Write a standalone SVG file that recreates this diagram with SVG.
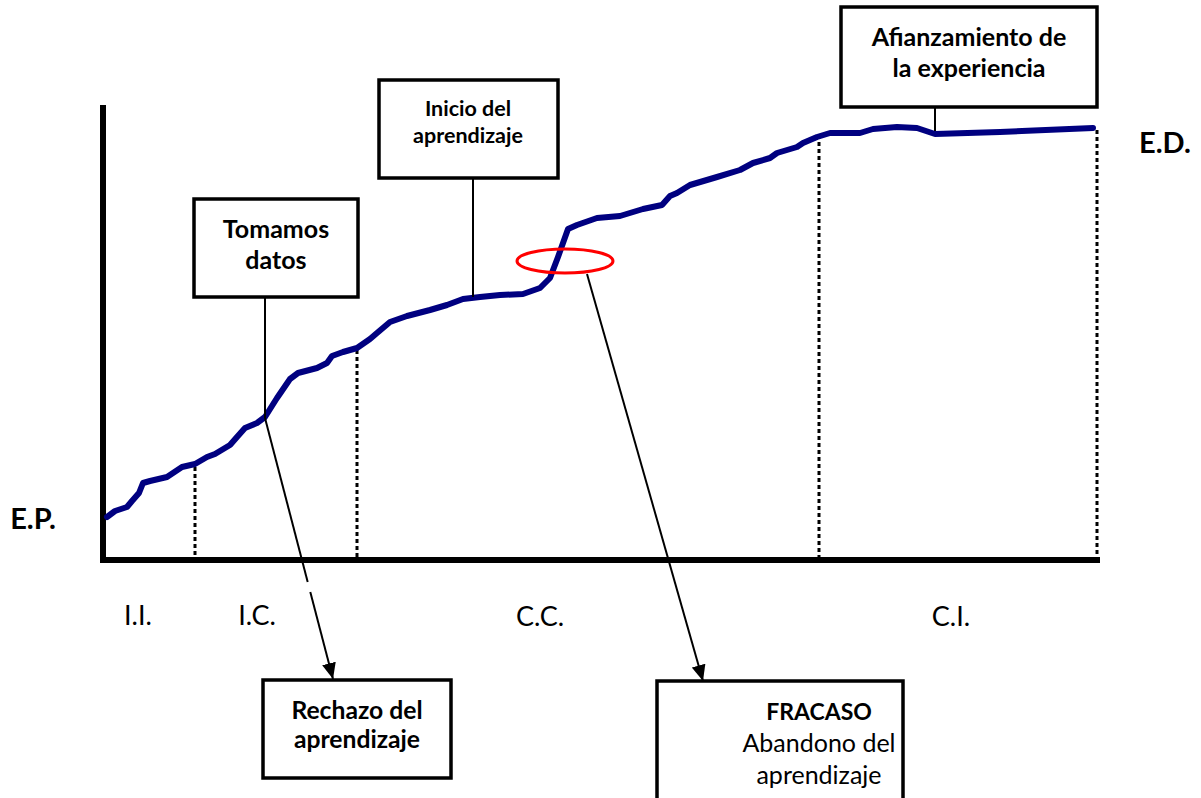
<svg xmlns="http://www.w3.org/2000/svg" width="1201" height="798" viewBox="0 0 1201 798">
  <style>
    .box { fill: #ffffff; stroke: #000000; stroke-width: 3.5; }
    .bt { font-family: Lato, "Liberation Sans", sans-serif; font-weight: bold; fill: #000000; text-anchor: middle; }
    .rt { font-family: Lato, "Liberation Sans", sans-serif; fill: #000000; text-anchor: middle; }
    .axis { stroke: #000000; stroke-width: 6; fill: none; }
    .dots { stroke: #000000; stroke-width: 3; stroke-dasharray: 4 3; fill: none; }
    .lead { stroke: #000000; stroke-width: 2; fill: none; }
    .curve { stroke: #000080; stroke-width: 6; fill: none; stroke-linejoin: round; stroke-linecap: round; }
  </style>
  <defs>
    <marker id="arrow" markerUnits="userSpaceOnUse" markerWidth="16" markerHeight="14" refX="16" refY="7" orient="auto">
      <path d="M0,0 L16,7 L0,14 Z" fill="#000000"/>
    </marker>
  </defs>
  <rect width="1201" height="798" fill="#ffffff"/>

  <!-- axes -->
  <g id="axes">
    <line class="axis" x1="103" y1="105" x2="103" y2="563"/>
    <line class="axis" x1="100" y1="560" x2="1100" y2="560"/>
  </g>

  <!-- stage separators -->
  <g id="separators">
    <line class="dots" x1="195" y1="467" x2="195" y2="557"/>
    <line class="dots" x1="357" y1="350" x2="357" y2="557"/>
    <line class="dots" x1="819" y1="135" x2="819" y2="557"/>
    <line class="dots" x1="1097" y1="130" x2="1097" y2="557"/>
  </g>

  <!-- learning curve -->
  <g id="curve">
    <polyline class="curve" points="107,517 115,511 127,507 132,501 139,493 143,483 150,481 167,477 182,467 195,464 207,457 215,454 230,445 237,437 245,428 257,423 265,417 277,398 290,379 298,373 317,368 327,363 332,356 343,352 357,348 370,339 377,333 390,322 407,316 430,310 447,305 463,299 480,297 500,295 523,294 540,288 550,278 558,257 568,229 577,225 597,218 620,216 643,209 662,205 670,196 677,193 690,185 717,177 740,170 753,163 770,158 777,153 797,147 803,143 817,137 830,133 860,133 873,129 897,127 917,128 935,134 1000,132 1093,128"/>
    <ellipse cx="565" cy="261" rx="48" ry="12" fill="none" stroke="#ff0000" stroke-width="3"/>
  </g>

  <!-- connectors -->
  <g id="connectors">
    <line class="lead" x1="265" y1="297" x2="265" y2="418"/>
    <line class="lead" x1="473" y1="178" x2="473" y2="297"/>
    <line class="lead" x1="935" y1="107" x2="935" y2="131"/>
    <line class="lead" x1="265" y1="418" x2="307.7" y2="582"/>
    <line class="lead" x1="310.3" y1="592" x2="333" y2="679" marker-end="url(#arrow)"/>
    <line class="lead" x1="587" y1="274" x2="703" y2="681" marker-end="url(#arrow)"/>
  </g>

  <!-- nodes -->
  <g id="tomamos">
    <rect class="box" x="194" y="199" width="164" height="98"/>
    <text class="bt" font-size="25" x="276" y="238">Tomamos</text>
    <text class="bt" font-size="25" x="276" y="269">datos</text>
  </g>
  <g id="inicio">
    <rect class="box" x="379" y="80" width="179" height="98"/>
    <text class="bt" font-size="21.5" x="468" y="116">Inicio del</text>
    <text class="bt" font-size="21.5" x="468" y="143">aprendizaje</text>
  </g>
  <g id="afianzamiento">
    <rect class="box" x="841" y="7" width="256" height="100"/>
    <text class="bt" font-size="25" x="969" y="46">Afianzamiento de</text>
    <text class="bt" font-size="25" x="969" y="77">la experiencia</text>
  </g>
  <g id="rechazo">
    <rect class="box" x="263" y="680" width="188" height="98"/>
    <text class="bt" font-size="24.7" x="357" y="719">Rechazo del</text>
    <text class="bt" font-size="24.7" x="357" y="748">aprendizaje</text>
  </g>
  <g id="fracaso">
    <rect class="box" x="657" y="681" width="246" height="130"/>
    <text class="bt" font-size="23" x="819" y="720">FRACASO</text>
    <text class="rt" font-size="25" x="819" y="752">Abandono del</text>
    <text class="rt" font-size="25" x="819" y="784">aprendizaje</text>
  </g>

  <!-- axis labels -->
  <g id="labels">
    <text class="bt" font-size="29" x="33" y="529">E.P.</text>
    <text class="bt" font-size="29" x="1165" y="153">E.D.</text>
    <text class="rt" font-size="27" x="138" y="625">I.I.</text>
    <text class="rt" font-size="27" x="257" y="625">I.C.</text>
    <text class="rt" font-size="27" x="540" y="626">C.C.</text>
    <text class="rt" font-size="27" x="951" y="626">C.I.</text>
  </g>
</svg>
